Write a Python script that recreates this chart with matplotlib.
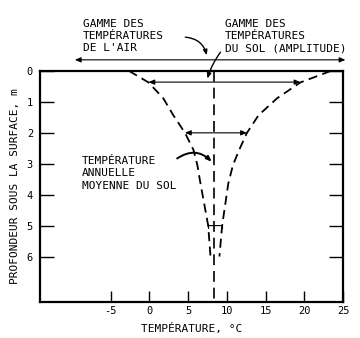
import matplotlib
matplotlib.use("Agg")
import matplotlib.pyplot as plt

# Profondeur (m) et enveloppe des températures du sol (°C)
profondeur = [0.0, 0.37, 0.88, 1.43, 2.0, 2.55, 3.04, 3.63, 5.0, 6.0]
temp_min = [-2.6, -0.1, 1.8, 3.1, 4.6, 5.7, 6.2, 6.6, 7.6, 7.9]
temp_max = [23.4, 19.5, 16.5, 14.1, 12.6, 11.6, 10.8, 10.2, 9.4, 9.05]

temp_moyenne = 8.4           # température annuelle moyenne du sol
air_min, air_max = -9.6, 25.3  # gamme des températures de l'air

# amplitudes marquées par des flèches (profondeur, min, max)
amplitudes = [(0.36, -0.1, 19.5), (2.0, 4.6, 12.6), (5.0, 7.6, 9.4)]

xticks = [-5, 0, 5, 10, 15, 20, 25]
yticks = [0, 1, 2, 3, 4, 5, 6]

plt.rcParams['font.family'] = ['DejaVu Sans Mono']
fs = 8

fig = plt.figure(figsize=(3.6, 3.38), dpi=100)
ax = fig.add_axes([0.111, 0.1065, 0.842, 0.6835])

ax.set_xlim(-14.1, 25)
ax.set_ylim(7.47, 0)

# enveloppes et ligne moyenne
ax.plot(temp_min, profondeur, color="k", lw=1.3, ls=(0, (5, 3)))
ax.plot(temp_max, profondeur, color="k", lw=1.3, ls=(0, (5, 3)))
ax.plot([temp_moyenne, temp_moyenne], [0, 7.47], color="k", lw=1.2, ls=(0, (6.5, 3.5)))

# flèches d'amplitude
for prof, tmin, tmax in amplitudes:
    style = "|-|,widthA=0.15,widthB=0.15" if tmax - tmin < 3 else "<|-|>,head_length=0.35,head_width=0.15"
    ax.annotate("", xy=(tmax, prof), xytext=(tmin, prof),
                arrowprops=dict(arrowstyle=style, color="k", lw=0.8,
                                shrinkA=0, shrinkB=0))

# gamme de l'air au-dessus du graphique
ax.annotate("", xy=(air_max, -0.36), xytext=(air_min, -0.36),
            arrowprops=dict(arrowstyle="<|-|>,head_length=0.35,head_width=0.15",
                            color="k", lw=0.8, shrinkA=0, shrinkB=0),
            annotation_clip=False)

ax.text(-8.6, -1.68, "GAMME DES\nTEMPÉRATURES\nDE L'AIR", fontsize=fs,
        va="top", ha="left", linespacing=1.25, clip_on=False)
ax.text(9.8, -1.68, "GAMME DES\nTEMPÉRATURES\nDU SOL (AMPLITUDE)", fontsize=fs,
        va="top", ha="left", linespacing=1.25, clip_on=False)
ax.text(-8.7, 2.75, "TEMPÉRATURE\nANNUELLE\nMOYENNE DU SOL", fontsize=fs,
        va="top", ha="left", linespacing=1.3)

# flèches de renvoi des textes
ax.annotate("", xy=(7.5, -0.42), xytext=(4.3, -1.1),
            arrowprops=dict(arrowstyle="-|>,head_length=0.3,head_width=0.12",
                            color="k", lw=1.0, connectionstyle="arc3,rad=-0.4"),
            annotation_clip=False)
ax.annotate("", xy=(7.4, 0.33), xytext=(9.4, -0.68),
            arrowprops=dict(arrowstyle="-|>,head_length=0.3,head_width=0.12",
                            color="k", lw=1.0, connectionstyle="arc3,rad=0.1"),
            annotation_clip=False)
ax.annotate("", xy=(8.3, 3.0), xytext=(3.3, 2.88),
            arrowprops=dict(arrowstyle="-|>,head_length=0.3,head_width=0.12",
                            color="k", lw=1.4, connectionstyle="arc3,rad=-0.45"))

# axes
for side in ["top", "bottom", "left", "right"]:
    ax.spines[side].set_linewidth(1.6)
ax.set_xticks(xticks)
ax.set_xticklabels([str(t) for t in xticks])
ax.set_yticks(yticks)
ax.set_yticklabels([str(t) for t in yticks])
ax.tick_params(axis="x", direction="in", length=8, width=1, labelsize=7.5, pad=3)
ax.tick_params(axis="y", direction="in", length=10, width=1, labelsize=7.5, pad=5,
               right=True)

ax.set_xlabel("TEMPÉRATURE, °C", fontsize=fs, labelpad=5)
ax.set_ylabel("PROFONDEUR SOUS LA SURFACE, m", fontsize=fs, labelpad=5)

fig.savefig("out.png", dpi=100)
